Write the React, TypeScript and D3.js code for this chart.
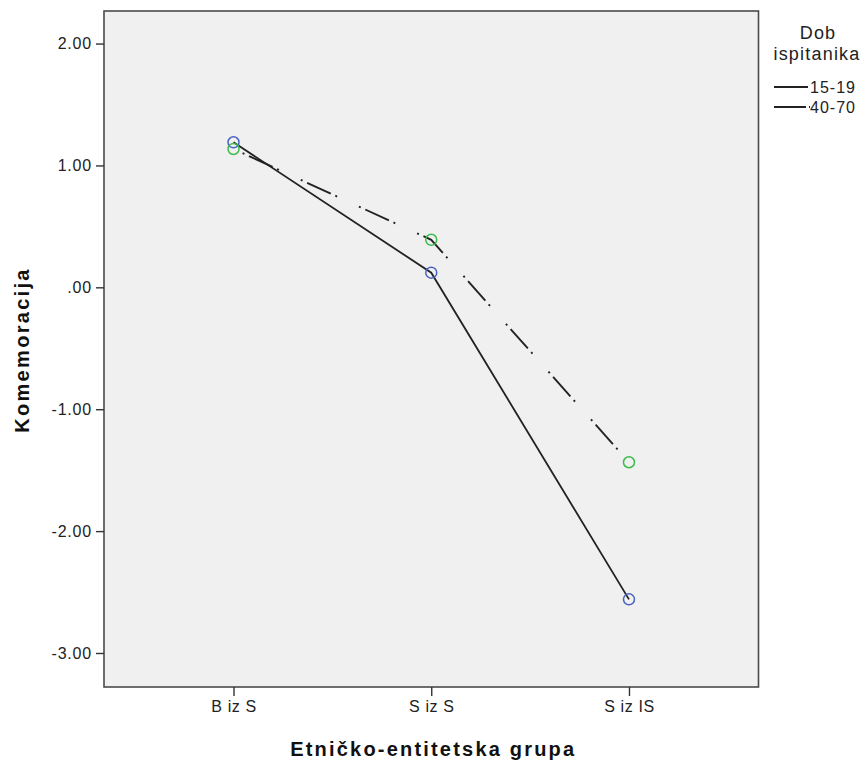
import { useEffect, useRef } from "react";
import * as d3 from "d3";

const WIDTH = 863;
const HEIGHT = 762;
const PLOT = { left: 104, right: 758.5, top: 11, bottom: 687 };

const groups = ["B iz S", "S iz S", "S iz IS"];
const age1519 = [1.19, 0.12, -2.56];
const age4070 = [1.135, 0.39, -1.435];
const yTicks = [-3, -2, -1, 0, 1, 2];
const yTickLabels = ["-3.00", "-2.00", "-1.00", ".00", "1.00", "2.00"];
const seriesNames = ["15-19", "40-70"];

const FONT = "'Liberation Sans', Arial, sans-serif";
const DASH_DOT = "2,5,26,5,2,24";

export default function App() {
  const svgRef = useRef<SVGSVGElement | null>(null);

  useEffect(() => {
    if (!svgRef.current) return;
    const svg = d3.select(svgRef.current);
    svg.selectAll("*").remove();

    const x = d3
      .scalePoint<string>()
      .domain(groups)
      .range([PLOT.left, PLOT.right])
      .padding(0.655);

    const y = d3.scaleLinear().domain([-3.279, 2.267]).range([PLOT.bottom, PLOT.top]);

    // plot background + frame
    svg
      .append("rect")
      .attr("x", PLOT.left)
      .attr("y", PLOT.top)
      .attr("width", PLOT.right - PLOT.left)
      .attr("height", PLOT.bottom - PLOT.top)
      .attr("fill", "#f0f0f0")
      .attr("stroke", "#4a4a4a")
      .attr("stroke-width", 1.6);

    // y axis
    svg
      .append("g")
      .attr("transform", `translate(${PLOT.left},0)`)
      .call(
        d3
          .axisLeft(y)
          .tickValues(yTicks)
          .tickSize(8)
          .tickPadding(4)
          .tickFormat((_v, i) => yTickLabels[i]),
      )
      .call((g: any) => {
        g.select(".domain").remove();
        g.selectAll("line").attr("stroke", "#333").attr("stroke-width", 1.4);
        g.selectAll("text")
          .attr("fill", "#222")
          .style("font-family", FONT)
          .style("font-size", "16px")
          .style("letter-spacing", "0.8px");
      });

    // x axis
    svg
      .append("g")
      .attr("transform", `translate(0,${PLOT.bottom})`)
      .call(d3.axisBottom(x).tickSize(9).tickPadding(5))
      .call((g: any) => {
        g.select(".domain").remove();
        g.selectAll("line").attr("stroke", "#333").attr("stroke-width", 1.4);
        g.selectAll("text")
          .attr("fill", "#222")
          .style("font-family", FONT)
          .style("font-size", "16px")
          .style("letter-spacing", "0.6px");
      });

    // lines
    const line = d3
      .line<number>()
      .x((_d, i) => x(groups[i]) ?? 0)
      .y((d) => y(d));

    svg
      .append("path")
      .attr("d", line(age1519))
      .attr("fill", "none")
      .attr("stroke", "#222")
      .attr("stroke-width", 1.8);

    svg
      .append("path")
      .attr("d", line(age4070))
      .attr("fill", "none")
      .attr("stroke", "#222")
      .attr("stroke-width", 1.9)
      .attr("stroke-dasharray", DASH_DOT)
      .attr("stroke-dashoffset", 54);

    // markers
    svg
      .selectAll("circle.young")
      .data(age1519)
      .enter()
      .append("circle")
      .attr("class", "young")
      .attr("cx", (_d, i) => x(groups[i]) ?? 0)
      .attr("cy", (d) => y(d))
      .attr("r", 5.5)
      .attr("fill", "none")
      .attr("stroke", "#4a62c2")
      .attr("stroke-width", 1.5);

    svg
      .selectAll("circle.old")
      .data(age4070)
      .enter()
      .append("circle")
      .attr("class", "old")
      .attr("cx", (_d, i) => x(groups[i]) ?? 0)
      .attr("cy", (d) => y(d))
      .attr("r", 5.5)
      .attr("fill", "none")
      .attr("stroke", "#3cbc4c")
      .attr("stroke-width", 1.5);

    // axis titles
    svg
      .append("text")
      .attr("x", (PLOT.left + PLOT.right) / 2 + 2)
      .attr("y", 756)
      .attr("text-anchor", "middle")
      .attr("fill", "#111")
      .style("font-family", FONT)
      .style("font-weight", "bold")
      .style("font-size", "20px")
      .style("letter-spacing", "2.2px")
      .text("Etničko-entitetska grupa");

    svg
      .append("text")
      .attr("transform", `translate(29,350) rotate(-90)`)
      .attr("text-anchor", "middle")
      .attr("fill", "#111")
      .style("font-family", FONT)
      .style("font-weight", "bold")
      .style("font-size", "20px")
      .style("letter-spacing", "2.3px")
      .text("Komemoracija");

    // legend
    const legend = svg.append("g");
    legend
      .append("text")
      .attr("x", 818)
      .attr("y", 39)
      .attr("text-anchor", "middle")
      .attr("fill", "#222")
      .style("font-family", FONT)
      .style("font-size", "18px")
      .style("letter-spacing", "1.2px")
      .text("Dob");
    legend
      .append("text")
      .attr("x", 817)
      .attr("y", 60)
      .attr("text-anchor", "middle")
      .attr("fill", "#222")
      .style("font-family", FONT)
      .style("font-size", "18px")
      .style("letter-spacing", "1.2px")
      .text("ispitanika");

    seriesNames.forEach((name, i) => {
      const ly = 87 + i * 20;
      legend
        .append("line")
        .attr("x1", 774)
        .attr("x2", i === 0 ? 808 : 810)
        .attr("y1", ly)
        .attr("y2", ly)
        .attr("stroke", "#222")
        .attr("stroke-width", 1.8)
        .attr("stroke-dasharray", i === 0 ? null : "32,3,2,40");
      legend
        .append("text")
        .attr("x", 810)
        .attr("y", ly + 6)
        .attr("fill", "#222")
        .style("font-family", FONT)
        .style("font-size", "16px")
        .style("letter-spacing", "1px")
        .text(name);
    });
  }, []);

  return (
    <svg
      ref={svgRef}
      width={WIDTH}
      height={HEIGHT}
      style={{ position: "absolute", left: 0, top: 0, background: "#fff" }}
    />
  );
}
